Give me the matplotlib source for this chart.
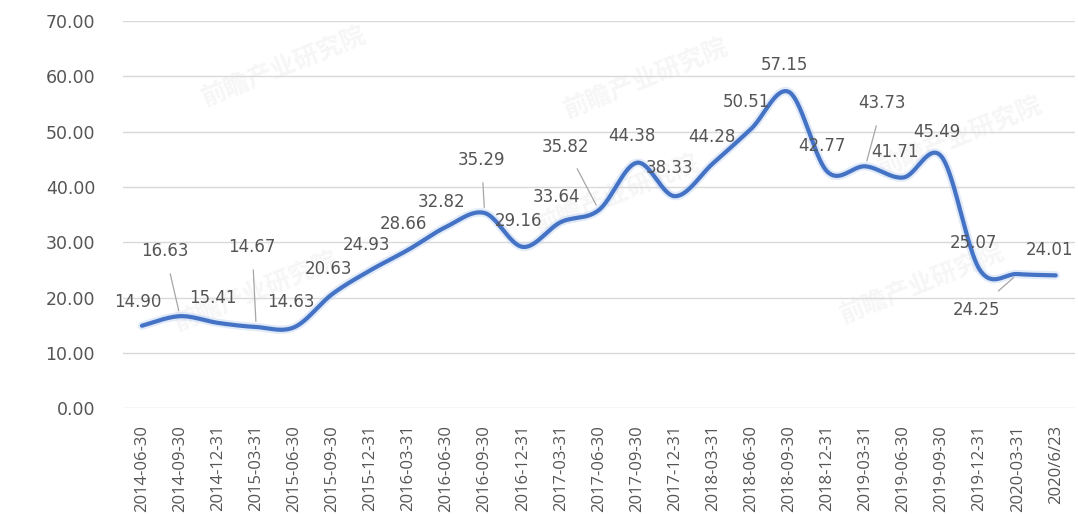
import numpy as np
import matplotlib
matplotlib.use("Agg")
import matplotlib.pyplot as plt
from matplotlib import font_manager

# Quarterly values
dates = ["2014-06-30", "2014-09-30", "2014-12-31", "2015-03-31", "2015-06-30",
         "2015-09-30", "2015-12-31", "2016-03-31", "2016-06-30", "2016-09-30",
         "2016-12-31", "2017-03-31", "2017-06-30", "2017-09-30", "2017-12-31",
         "2018-03-31", "2018-06-30", "2018-09-30", "2018-12-31", "2019-03-31",
         "2019-06-30", "2019-09-30", "2019-12-31", "2020-03-31", "2020/6/23"]
values = [14.90, 16.63, 15.41, 14.67, 14.63, 20.63, 24.93, 28.66, 32.82, 35.29,
          29.16, 33.64, 35.82, 44.38, 38.33, 44.28, 50.51, 57.15, 42.77, 43.73,
          41.71, 45.49, 25.07, 24.25, 24.01]
yticks = [0, 10, 20, 30, 40, 50, 60, 70]

# Label placement (pixel offsets from each point) and which labels get a leader line
label_dx = [-4, -15, -5, -4, -3, -4, -4, -5, -5, -3, -4, -4, -33, -5, -5,
            -1, -5, -5, -5, 17, -8, -5, -6, -41, -6]
label_dy = [24, 65, 25, 80, 25, 25, 25, 26, 25, 53, 26, 25, 63, 27, 28,
            26, 27, 27, 26, 63, 25, 25, 26, -36, 25]
leaders = {1, 3, 9, 12, 19, 23}

available = {f.name for f in font_manager.fontManager.ttflist}
tick_font = "Liberation Sans Narrow" if "Liberation Sans Narrow" in available else "Open Sans"
plt.rcParams["font.family"] = ["DejaVu Sans"]

TEXT = "#555555"
LINE = "#4472C4"
GRID = "#d9d9d9"

fig = plt.figure(figsize=(10.78, 5.14), dpi=100)
ax = fig.add_axes([0.114, 0.206, 0.883, 0.753])


def smooth(xs, ys, n=40):
    """Cubic Bezier smoothing through every point (Catmull-Rom style tangents)."""
    pts = np.column_stack([xs, ys]).astype(float)
    out = []
    m = len(pts)
    for i in range(m - 1):
        p0 = pts[max(i - 1, 0)]
        p1 = pts[i]
        p2 = pts[i + 1]
        p3 = pts[min(i + 2, m - 1)]
        c1 = p1 + (p2 - p0) / 6.0
        c2 = p2 - (p3 - p1) / 6.0
        t = np.linspace(0, 1, n, endpoint=(i == m - 2))[:, None]
        seg = ((1 - t) ** 3) * p1 + 3 * ((1 - t) ** 2) * t * c1 + 3 * (1 - t) * t ** 2 * c2 + t ** 3 * p2
        out.append(seg)
    out = np.vstack(out)
    return out[:, 0], out[:, 1]


# Faint watermark
for (wx, wy) in [(0.17, 0.88), (0.55, 0.85), (0.88, 0.70),
                 (0.14, 0.30), (0.52, 0.55), (0.84, 0.32)]:
    ax.text(wx, wy, "前瞻产业研究院", transform=ax.transAxes, rotation=22,
            fontsize=18, color="#9a9a9a", alpha=0.09, ha="center", va="center",
            family=["Noto Sans CJK SC", "DejaVu Sans"], fontweight="bold", zorder=0)

x = np.arange(len(dates))
sx, sy = smooth(x, values)
ax.plot(sx, sy, color="#a9c4ee", lw=6, alpha=0.35, solid_capstyle="round", zorder=3)
ax.plot(sx, sy, color=LINE, lw=3.0, solid_capstyle="round", zorder=4)

for i, (xi, v) in enumerate(zip(x, values)):
    props = None
    if i in leaders:
        props = dict(arrowstyle="-", color="#a6a6a6", lw=0.9, shrinkA=8, shrinkB=4)
    ax.annotate(f"{v:.2f}", xy=(xi, v), xytext=(label_dx[i], label_dy[i]),
                textcoords="offset pixels", ha="center", va="center",
                fontsize=12, color=TEXT, arrowprops=props, zorder=5)

ax.set_xlim(-0.5, len(dates) - 0.5)
ax.set_ylim(0, 70)
ax.set_yticks(yticks)
ax.set_yticklabels([f"{t:.2f}" for t in yticks], fontsize=12.5, color=TEXT)
ax.set_xticks(x)
ax.set_xticklabels(dates, rotation=90, fontsize=12, color=TEXT, family=[tick_font, "DejaVu Sans"])
ax.tick_params(axis="both", length=0)
ax.tick_params(axis="y", pad=20)
ax.tick_params(axis="x", pad=12)
ax.grid(axis="y", color=GRID, lw=1)
ax.set_axisbelow(True)
for s in ax.spines.values():
    s.set_visible(False)

fig.savefig("out.png", dpi=100, facecolor="white")
